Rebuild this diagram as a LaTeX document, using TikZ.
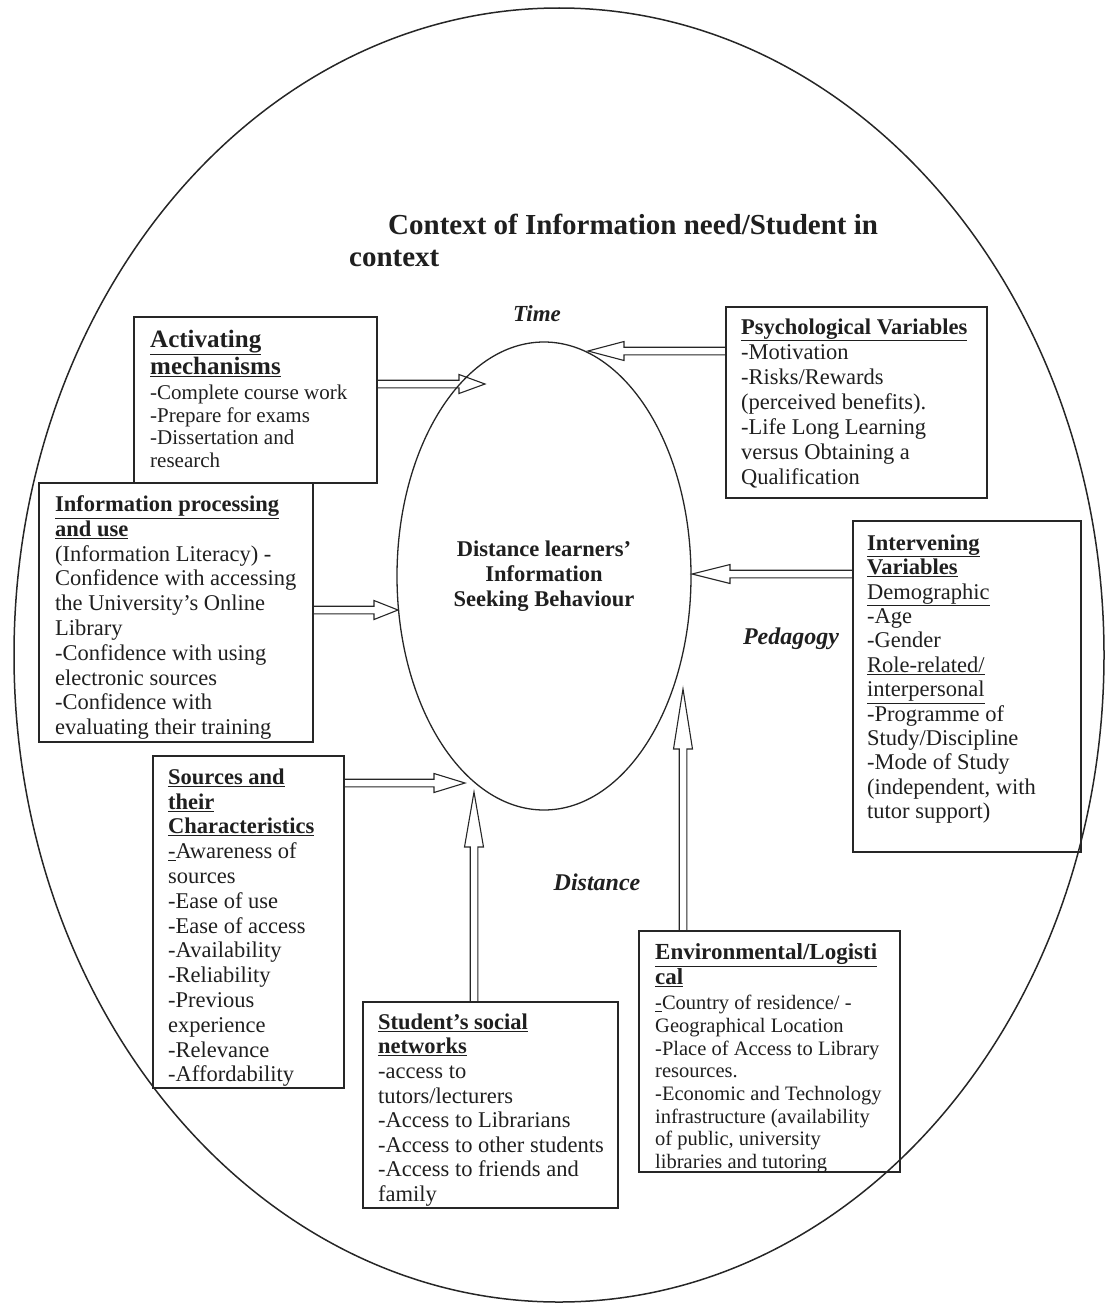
\documentclass[tikz,border=0pt]{standalone}
\usepackage{fontspec}
\setmainfont{Liberation Serif}
\usetikzlibrary{shapes.geometric,calc}

\newcommand\fatarrow[3][30]{%
  \draw[fatline] let \p1=(#2), \p2=(#3), \n1={atan2(\y2-\y1,\x2-\x1)}, \n2={cos(\n1)}, \n3={sin(\n1)} in
  ({\x1-3.8pt*\n3},{\y1+3.8pt*\n2}) --
  ({\x2-#1pt*\n2-3.8pt*\n3},{\y2-#1pt*\n3+3.8pt*\n2}) --
  ({\x2-#1pt*\n2-9.5pt*\n3},{\y2-#1pt*\n3+9.5pt*\n2}) --
  (\x2,\y2) --
  ({\x2-#1pt*\n2+9.5pt*\n3},{\y2-#1pt*\n3-9.5pt*\n2}) --
  ({\x2-#1pt*\n2+3.8pt*\n3},{\y2-#1pt*\n3-3.8pt*\n2}) --
  ({\x1+3.8pt*\n3},{\y1-3.8pt*\n2});}

\newcommand\hdb[1]{{\bfseries\underline{#1}}}
\newcommand\bigh[1]{{\fontsize{25}{27}\selectfont\hdb{#1}}}
\newcommand\envh[1]{{\fontsize{23}{25}\selectfont\hdb{#1}}}

\tikzset{
  boxst/.style={draw=black!85, line width=1.6pt, anchor=north west, inner sep=0pt, outer sep=0pt},
  txt/.style={anchor=north west, inner sep=0pt, align=left, text=black!88},
  fatline/.style={draw=black!85, line width=1.1pt, line join=miter},
  lbl/.style={font=\fontsize{24}{28}\selectfont\bfseries\itshape, anchor=base, inner sep=0pt, text=black!88},
  ell/.style={draw=black!85, ellipse, inner sep=0pt, outer sep=0pt},
}

\begin{document}
\lineskiplimit=-50pt\relax
\begin{tikzpicture}[x=1pt,y=-1pt]
\useasboundingbox (0,0) rectangle (1105,1306);

% ellipses
\node[ell, line width=1.5pt, minimum width=1090pt, minimum height=1294pt] (outer) at (559,655) {};
\node[ell, line width=1.3pt, minimum width=294pt, minimum height=468pt, align=center,
      font=\fontsize{22.5}{25}\selectfont\bfseries, text=black!88] (core) at (544,576)
      {Distance learners’\\Information\\Seeking Behaviour};

% title
\node[anchor=base west, inner sep=0pt, font=\fontsize{29}{33}\selectfont\bfseries, text=black!88] (title1) at (388,234) {Context of Information need/Student in};
\node[anchor=base west, inner sep=0pt, font=\fontsize{29}{33}\selectfont\bfseries, text=black!88] (title2) at (349,266) {context};

% labels
\node[lbl, font=\fontsize{23}{27}\selectfont\bfseries\itshape] (time) at (537,321) {Time};
\node[lbl] (peda) at (791,644) {Pedagogy};
\node[lbl] (dist) at (597,890) {Distance};

% boxes
\node[boxst, minimum width=243pt, minimum height=166pt] (act) at (134,317) {};
\node[boxst, minimum width=274pt, minimum height=259pt] (info) at (39,483) {};
\node[boxst, minimum width=261pt, minimum height=191pt] (psy) at (726,307) {};
\node[boxst, minimum width=228pt, minimum height=331pt] (int) at (853,521) {};
\node[boxst, minimum width=191pt, minimum height=332pt] (src) at (153,756) {};
\node[boxst, minimum width=255pt, minimum height=206pt] (stu) at (363,1002) {};
\node[boxst, minimum width=261pt, minimum height=241pt] (env) at (639,931) {};

% box texts
\node[txt, font=\fontsize{21}{22.7}\selectfont] (actT) at (150,330)
{\bigh{Activating}\\[4.3pt]
 \bigh{mechanisms}\\[2.3pt]
 -Complete course work\\
 -Prepare for exams\\
 -Dissertation and\\
 research};

\node[txt, font=\fontsize{22.5}{25}\selectfont] (psyT) at (741,318.5)
{\hdb{Psychological Variables}\\
 -Motivation\\
 -Risks/Rewards\\
 (perceived benefits).\\
 -Life Long Learning\\
 versus Obtaining a\\
 Qualification};

\node[txt, font=\fontsize{22.5}{24.8}\selectfont] (infoT) at (55,495.5)
{\hdb{Information processing}\\
 \hdb{and use}\\
 (Information Literacy) -\\
 Confidence with accessing\\
 the University’s Online\\
 Library\\
 -Confidence with using\\
 electronic sources\\
 -Confidence with\\
 evaluating their training};

\node[txt, font=\fontsize{22.5}{24.4}\selectfont] (intT) at (867,534.5)
{\hdb{Intervening}\\
 \hdb{Variables}\\
 \underline{Demographic}\\
 -Age\\
 -Gender\\
 \underline{Role-related/}\\
 \underline{interpersonal}\\
 -Programme of\\
 Study/Discipline\\
 -Mode of Study\\
 (independent, with\\
 tutor support)};

\node[txt, font=\fontsize{22.5}{24.8}\selectfont] (srcT) at (168,768.5)
{\hdb{Sources and}\\
 \hdb{their}\\
 \hdb{Characteristics}\\
 \underline{-}Awareness of\\
 sources\\
 -Ease of use\\
 -Ease of access\\
 -Availability\\
 -Reliability\\
 -Previous\\
 experience\\
 -Relevance\\
 -Affordability};

\node[txt, font=\fontsize{22.5}{24.6}\selectfont] (stuT) at (378,1013.5)
{\hdb{Student’s social}\\
 \hdb{networks}\\
 -access to\\
 tutors/lecturers\\
 -Access to Librarians\\
 -Access to other students\\
 -Access to friends and\\
 family};

\node[txt, font=\fontsize{20.5}{22.7}\selectfont] (envT) at (655,943.5)
{\envh{Environmental/Logisti}\\[2.3pt]
 \envh{cal}\\[2.3pt]
 \underline{-}Country of residence/ -\\
 Geographical Location\\
 -Place of Access to Library\\
 resources.\\
 -Economic and Technology\\
 infrastructure (availability\\
 of public, university\\
 libraries and tutoring};

% arrow tips
\coordinate (tAct) at (485,384);
\coordinate (tPsy) at (588,351);
\coordinate (tInfo) at (398,610);
\coordinate (tInt) at (692,574);
\coordinate (tSrc) at (465,783);
\coordinate (tStu) at (474,792);
\coordinate (tEnv) at (683,689);

% arrows
\fatarrow[26]{act.east |- tAct}{tAct}
\fatarrow[36]{psy.west |- tPsy}{tPsy}
\fatarrow[24]{info.east |- tInfo}{tInfo}
\fatarrow[38]{int.west |- tInt}{tInt}
\fatarrow[31]{src.east |- tSrc}{tSrc}
\fatarrow[55]{stu.north -| tStu}{tStu}
\fatarrow[60]{env.north -| tEnv}{tEnv}
\end{tikzpicture}
\end{document}
